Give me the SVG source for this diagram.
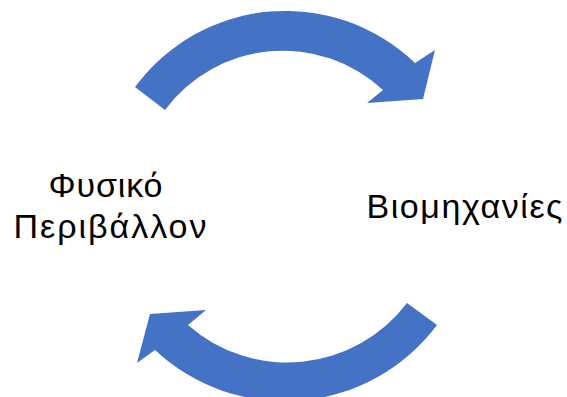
<svg xmlns="http://www.w3.org/2000/svg" width="567" height="397" viewBox="0 0 567 397">
<style>
.arrow{fill:#4472C4;stroke:none}
.lbl{font-family:"Liberation Sans","DejaVu Sans",sans-serif;font-size:34px;fill:#000;text-anchor:middle}
</style>
<rect width="567" height="397" fill="#fff"/>
<g id="connectors">
<path id="arrow-top" class="arrow" d="M135,87 A187,187 0 0 1 415,63 L435,50 L423,99 L367,103 L383,90 A147,147 0 0 0 165,110 Z"/>
<path id="arrow-bottom" class="arrow" d="M437,325 A190,190 0 0 1 155,350 L137,363 L150,314 L206,310 L188,325 A150,150 0 0 0 407,303 Z"/>
</g>
<g id="node-fysiko">
<text class="lbl" x="105.5" y="197" textLength="114">Φυσικό</text>
<text class="lbl" x="110" y="238" textLength="193">Περιβάλλον</text>
</g>
<g id="node-viomichanies">
<text class="lbl" x="464.5" y="218" textLength="196">Βιομηχανίες</text>
</g>
</svg>
